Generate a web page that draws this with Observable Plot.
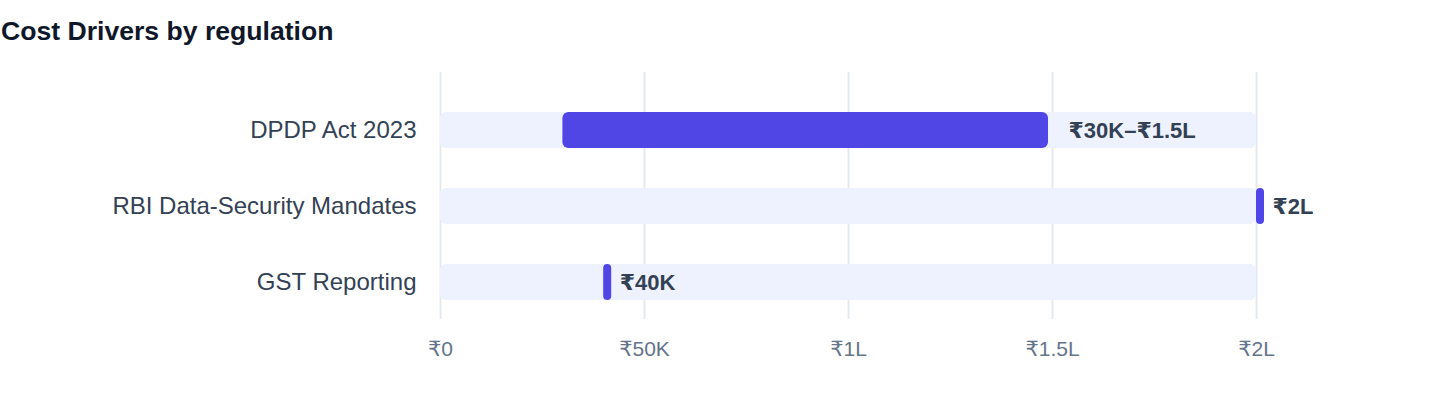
<!DOCTYPE html>
<html>
<head>
<meta charset="utf-8">
<script src="https://cdn.jsdelivr.net/npm/d3@7"></script>
<script src="https://cdn.jsdelivr.net/npm/@observablehq/plot@0.6"></script>
<style>
  html, body { margin: 0; padding: 0; background: #ffffff; }
  body { width: 1440px; height: 408px; overflow: hidden; font-family: "Liberation Sans", Arial, "DejaVu Sans", sans-serif; }
  #title { height: 60px; box-sizing: border-box; padding-top: 18px; padding-left: 1px; font-size: 26.6px; line-height: 27px; font-weight: 700; color: #0f172a; }
  #chart svg { display: block; }
</style>
</head>
<body>
<div id="title">Cost Drivers by regulation</div>
<div id="chart"></div>
<script>
const regulations = ["DPDP Act 2023", "RBI Data-Security Mandates", "GST Reporting"];
const costLow = [30000, 200000, 40000];
const costHigh = [150000, 200000, 40000];
const costLabels = ["₹30K–₹1.5L", "₹2L", "₹40K"];
const axisMin = 0;
const axisMax = 200000;
const tickValues = [0, 50000, 100000, 150000, 200000];
const tickLabels = ["₹0", "₹50K", "₹1L", "₹1.5L", "₹2L"];

const rows = regulations.map((name, i) => ({
  name, lo: costLow[i], hi: costHigh[i], label: costLabels[i], min: axisMin, max: axisMax
}));
const rangeRows = rows.filter(d => d.hi > d.lo);
const pointRows = rows.filter(d => d.hi === d.lo);
const tickFmt = v => tickLabels[tickValues.indexOf(v)];

const chart = Plot.plot({
  width: 1440,
  height: 348,
  marginLeft: 440,
  marginRight: 184,
  marginTop: 12,
  marginBottom: 89,
  style: { fontFamily: '"Liberation Sans", Arial, "DejaVu Sans", sans-serif', background: "#ffffff" },
  x: { domain: [axisMin, axisMax], ticks: tickValues, tickFormat: tickFmt },
  y: { domain: regulations, paddingInner: 0.526, paddingOuter: 0.388, align: 0.68 },
  marks: [
    Plot.gridX(tickValues, { stroke: "#e2e8f0", strokeOpacity: 1, strokeWidth: 1.8 }),
    Plot.barX(rows, { y: "name", x1: "min", x2: "max", fill: "#eef1fe", rx: 6 }),
    Plot.barX(rangeRows, { y: "name", x1: "lo", x2: "hi", fill: "#4f46e5", rx: 6, insetRight: 4 }),
    Plot.barX(pointRows, { y: "name", x1: "lo", x2: "hi", fill: "#4f46e5", rx: 4, insetRight: -8 }),
    Plot.text(rows, { y: "name", x: "hi", text: "label", dx: 16, textAnchor: "start", fontWeight: "bold", fontSize: 22, fill: "#334155" }),
    Plot.axisX(tickValues, { tickFormat: tickFmt, tickSize: 0, tickPadding: 22, fontSize: 21, fill: "#64748b", label: null }),
    Plot.axisY({ tickSize: 0, tickPadding: 24, fontSize: 24, fill: "#334155", label: null })
  ]
});
document.getElementById("chart").appendChild(chart);
</script>
</body>
</html>
